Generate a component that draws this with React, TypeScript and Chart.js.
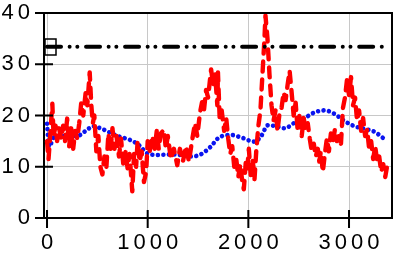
import React, { useEffect, useRef } from "react";
import { Chart, registerables } from "chart.js";

Chart.register(...registerables);

const xTicks = [0, 1000, 2000, 3000];
const yTicks = [0, 10, 20, 30, 40];

const redX = [0, 15, 35, 53, 65, 85, 100, 120, 140, 160, 180, 200, 220, 240, 260, 280, 300, 320, 340, 360, 384, 400, 424, 440, 455, 470, 490, 510, 530, 550, 570, 590, 610, 630, 650, 670, 690, 715, 735, 760, 781, 800, 820, 847, 865, 885, 900, 920, 940, 963, 985, 1000, 1020, 1046, 1070, 1090, 1110, 1130, 1162, 1180, 1200, 1230, 1260, 1294, 1320, 1350, 1380, 1410, 1440, 1470, 1493, 1520, 1540, 1559, 1580, 1600, 1630, 1650, 1670, 1692, 1698, 1715, 1735, 1760, 1780, 1800, 1820, 1840, 1860, 1880, 1900, 1920, 1940, 1955, 1975, 1990, 2005, 2025, 2045, 2060, 2080, 2100, 2120, 2140, 2160, 2170, 2190, 2210, 2230, 2250, 2270, 2290, 2310, 2330, 2350, 2370, 2390, 2410, 2430, 2450, 2470, 2490, 2510, 2530, 2550, 2570, 2590, 2610, 2630, 2650, 2670, 2690, 2705, 2720, 2740, 2760, 2780, 2800, 2820, 2840, 2860, 2880, 2900, 2920, 2940, 2960, 2980, 3000, 3020, 3040, 3060, 3080, 3100, 3120, 3140, 3160, 3180, 3200, 3220, 3240, 3260, 3280, 3300, 3320, 3340, 3360, 3380, 3400];
const redY = [15, 11.5, 17, 22.3, 16, 18, 15, 17.5, 15.5, 18, 15, 19.4, 14, 17.5, 13.5, 17, 15.5, 18.5, 22.5, 20, 24.5, 22, 28.4, 22, 18.5, 20, 13, 16, 10, 8.5, 12, 10, 16.5, 13, 17.5, 13.5, 16, 12, 15.5, 10, 13, 9.7, 12.5, 5.2, 12.5, 10, 15, 11, 13, 7, 9, 15, 13, 16, 13.5, 17, 13.5, 16.5, 17.2, 13.5, 16, 11.5, 13.5, 10.3, 13.5, 11, 14, 11, 15, 18.5, 16, 20.6, 22.6, 21, 25, 23.5, 29, 26, 28, 22, 28.4, 19.5, 21, 17, 19.5, 15.5, 12.5, 14, 10, 11.5, 8, 10.5, 7, 5.6, 11, 9.7, 13.5, 8, 11.5, 7.2, 13.5, 18, 21, 28, 35, 39.5, 35, 28, 22, 19, 21, 17, 20.5, 21.5, 24.5, 23, 26, 28.7, 24.5, 20, 22.5, 17, 20.5, 16, 19.5, 17, 18.5, 15.5, 13, 14.5, 12, 13.5, 11, 13, 9, 12.5, 15.5, 13, 16.5, 14.8, 17.3, 15, 16, 14.5, 21.5, 23.5, 27, 24, 27.5, 22, 23.5, 19, 21, 17, 19.5, 16, 17.3, 13.5, 15, 11.5, 14, 11, 12, 9, 10.5, 8, 10.3, 9.5];

const blueX = [0, 20, 70, 169, 301, 384, 460, 533, 632, 732, 831, 914, 996, 1096, 1228, 1327, 1426, 1526, 1625, 1708, 1830, 1930, 2062, 2128, 2195, 2277, 2360, 2459, 2559, 2658, 2757, 2857, 2956, 3055, 3155, 3254, 3353];
const blueY = [18.4, 13.9, 15.8, 16, 16, 17, 17.9, 17.5, 16.6, 15.8, 15.2, 14.2, 12.6, 12.3, 12.4, 12.3, 12, 12.4, 13.9, 15.7, 16.2, 15.7, 14.9, 16, 18.1, 17.9, 17.5, 18.6, 19.5, 20.6, 21, 20.3, 18.9, 17.9, 17.4, 16.8, 15.4];

const refX = [0, 3360];
const refY = [33.4, 33.4];

const FONT = "'Liberation Sans', Arial, sans-serif";

export default function App() {
  const ref = useRef<HTMLCanvasElement>(null);
  useEffect(() => {
    document.body.style.margin = "0";
    const canvas = ref.current!;
    const framePlugin = {
      id: "frame",
      beforeDraw(chart: any) {
        chart.ctx.letterSpacing = "4px";
      },
      beforeDatasetsDraw(chart: any) {
        chart.ctx.letterSpacing = "0px";
      },
      afterDatasetsDraw(chart: any) {
        const { ctx, chartArea: a, scales } = chart;
        ctx.save();
        ctx.strokeStyle = "#000";
        ctx.lineWidth = 2;
        ctx.beginPath();
        ctx.moveTo(a.left, a.top);
        ctx.lineTo(a.right, a.top);
        ctx.lineTo(a.right, a.bottom);
        ctx.stroke();
        ctx.beginPath();
        for (const v of yTicks) {
          const y = scales.y.getPixelForValue(v);
          ctx.moveTo(a.left - 9, y);
          ctx.lineTo(a.left + 9, y);
        }
        for (const v of xTicks) {
          const x = scales.x.getPixelForValue(v);
          ctx.moveTo(x, a.bottom - 8);
          ctx.lineTo(x, a.bottom + 10);
        }
        ctx.stroke();
        ctx.lineWidth = 1.5;
        ctx.strokeRect(a.left + 1, a.top + 26, 11, 16);
        ctx.restore();
      },
    };
    const zeroPad = (s: any) => {
      s.paddingTop = 0;
      s.paddingBottom = 0;
      s.paddingLeft = 0;
      s.paddingRight = 0;
    };
    const chart = new Chart(canvas, {
      type: "line",
      data: {
        datasets: [
          {
            data: refX.map((x, i) => ({ x, y: refY[i] })),
            borderColor: "#000",
            borderWidth: 4,
            borderCapStyle: "round",
            borderDash: [14, 8.6, 0.01, 7.7, 0.01, 8.7],
            pointRadius: 0,
          },
          {
            data: redX.map((x, i) => ({ x, y: redY[i] })),
            borderColor: "#ff0000",
            borderWidth: 4.4,
            borderCapStyle: "round",
            borderJoinStyle: "round",
            borderDash: [10, 8],
            pointRadius: 0,
            tension: 0,
          },
          {
            data: blueX.map((x, i) => ({ x, y: blueY[i] })),
            borderColor: "#0a14f0",
            borderWidth: 4.6,
            borderCapStyle: "round",
            borderDash: [0.01, 5.5],
            pointRadius: 0,
            cubicInterpolationMode: "monotone",
          },
        ],
      },
      options: {
        animation: false,
        responsive: false,
        devicePixelRatio: 1,
        layout: { padding: { top: 13, right: 15, left: 0, bottom: 0 } },
        plugins: { legend: { display: false }, tooltip: { enabled: false } },
        scales: {
          x: {
            type: "linear",
            min: -30,
            max: 3427,
            afterBuildTicks: (s: any) => {
              s.ticks = xTicks.map((value) => ({ value }));
            },
            afterFit: (s: any) => {
              s.height = 37;
              zeroPad(s);
            },
            grid: { color: "#c8c8c8", lineWidth: 1, drawTicks: false },
            border: { display: true, color: "#000", width: 2 },
            ticks: {
              padding: 12,
              labelOffset: 2,
              color: "#000",
              font: { family: FONT, size: 22 },
              maxRotation: 0,
              autoSkip: false,
              callback: (v: any) => String(v),
            },
          },
          y: {
            type: "linear",
            min: 0,
            max: 40,
            afterBuildTicks: (s: any) => {
              s.ticks = yTicks.map((value) => ({ value }));
            },
            afterFit: (s: any) => {
              s.width = 44;
              zeroPad(s);
            },
            grid: { color: "#c8c8c8", lineWidth: 1, drawTicks: false },
            border: { display: true, color: "#000", width: 2 },
            ticks: {
              padding: 10,
              color: "#000",
              font: { family: FONT, size: 22 },
              autoSkip: false,
              callback: (v: any) => String(v),
            },
          },
        },
      },
      plugins: [framePlugin],
    } as any);
    return () => chart.destroy();
  }, []);
  return (
    <div style={{ width: 407, height: 255 }}>
      <canvas ref={ref} width={407} height={255} style={{ width: 407, height: 255, display: "block" }} />
    </div>
  );
}
